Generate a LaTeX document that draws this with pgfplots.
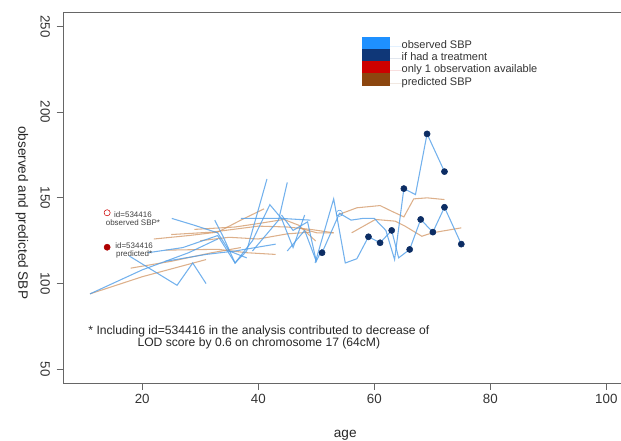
\documentclass[border=0pt]{standalone}
\usepackage{fontspec}
\setmainfont{Liberation Sans}
\usepackage{pgfplots}
\pgfplotsset{compat=1.18}
\definecolor{obs}{RGB}{80,158,232}
\definecolor{pred}{RGB}{210,150,100}
\definecolor{navy}{RGB}{12,45,100}
\definecolor{legblue}{RGB}{30,144,255}
\definecolor{legnavy}{RGB}{15,55,120}
\definecolor{legred}{RGB}{205,0,0}
\definecolor{legbrown}{RGB}{140,70,15}
\begin{document}
\begin{tikzpicture}
\begin{axis}[
  scale only axis, width=423.2pt, height=278pt,
  xmin=6.4, xmax=103.6, ymin=42, ymax=258,
  xtick={20,40,60,80,100}, ytick={50,100,150,200,250},
  tick align=outside, major tick length=5pt, tick pos=left,
  axis line style={black!60, line width=0.6pt},
  every tick/.style={black!60, line width=0.6pt},
  ticklabel style={font=\fontsize{10}{11}\selectfont, text=black!80},
  /pgf/number format/assume math mode=true,
  yticklabel style={rotate=-90, anchor=north},
  yticklabel shift=1.5pt,
  xlabel={age}, ylabel={observed and predicted SBP},
  label style={font=\fontsize{10.2}{11}\selectfont, text=black!85},
  xlabel style={at={(axis description cs:0.5,-0.140)}, anchor=center},
  ylabel style={at={(axis description cs:-0.0737,0.46)}, anchor=center, rotate=180},
  legend style={at={(axis description cs:0.5299,0.9352)}, anchor=north west,
    draw=none, fill=none, row sep=0pt, inner sep=0pt, outer sep=0pt, column sep=0pt,
    font=\fontsize{8.25}{9}\selectfont, text=black!80,
    nodes={inner sep=0pt, text height=3pt, text depth=0pt}},
  legend cell align=left,
  legend image code/.code={\fill[#1, draw=none] (0pt,-2.0pt) rectangle (21pt,7.2pt); \path[draw=none] (0pt,0pt) -- (29.7pt,0pt);},
  obsl/.style={obs, line width=0.8pt, opacity=0.8},
  predl/.style={pred, line width=0.8pt, opacity=0.75},
]
\addlegendimage{fill=legblue, draw=none}
\addlegendentry{observed SBP}
\addlegendimage{fill=legnavy, draw=none}
\addlegendentry{if had a treatment}
\addlegendimage{fill=legred, draw=none}
\addlegendentry{only 1 observation available}
\addlegendimage{fill=legbrown, draw=none}
\addlegendentry{predicted SBP}

% predicted SBP
\addplot[predl, forget plot] coordinates {(11,94) (20,104) (31,114)};
\addplot[predl, forget plot] coordinates {(18,109) (25,113) (32,118) (37,121)};
\addplot[predl, forget plot] coordinates {(22,126) (28,128) (33,130) (37,137) (41,143.6)};
\addplot[predl, forget plot] coordinates {(24,119.5) (33,120) (38,118) (43,117)};
\addplot[predl, forget plot] coordinates {(25,128.6) (32,130) (40,133.5) (45,133) (49,131.6) (53,129.6)};
\addplot[predl, forget plot] coordinates {(29,131.6) (36,133) (40,135) (44.4,137.4) (47,134) (49.9,124.8)};
\addplot[predl, forget plot] coordinates {(30,125) (35,127) (40,126) (45,129) (49,130)};
\addplot[predl, forget plot] coordinates {(47,132.5) (50.1,129.6) (53,129.6)};
\addplot[predl, forget plot] coordinates {(53.9,140.3) (57,144.2) (61,145.5) (63,142.2) (65.1,138.9) (66.8,149.4) (69.1,150) (72.1,149)};
\addplot[predl, forget plot] coordinates {(56.1,129.6) (60.2,137.4) (63.6,136.4) (65.3,133.5) (68.2,127.6) (70,129.6) (75,132.5)};

% observed SBP
\addplot[obsl, forget plot] coordinates {(11,94) (20,108) (28,118) (33,126)};
\addplot[obsl, forget plot] coordinates {(17.8,116) (26,99) (28.7,112) (31,100)};
\addplot[obsl, forget plot] coordinates {(25.1,138) (29,134) (33,129.6) (35,119) (38,115)};
\addplot[obsl, forget plot] coordinates {(21,118) (27,121) (33,128) (36,112) (38,119) (41.5,161)};
\addplot[obsl, forget plot] coordinates {(24,113) (31,117) (36,119) (43,123)};
\addplot[obsl, forget plot] coordinates {(32.5,137) (34,127) (36,112) (39,125) (42,146) (44,138) (46,121) (48,140)};
\addplot[obsl, forget plot] coordinates {(37,138) (44,138) (49,137)};
\addplot[obsl, forget plot] coordinates {(39,119) (43.5,137) (45,159)};
\addplot[obsl, forget plot] coordinates {(44,140) (46,131) (48.5,136) (50,113) (51,120)};
\addplot[obsl, forget plot] coordinates {(45,119) (48,131) (50,113)};
\addplot[obsl, forget plot] coordinates {(49.8,112) (53,149.4) (55,112) (57,114.5) (59,127.3) (61,123.8) (63,131) (64.2,115) (66.1,119.9) (68,137.4) (70.1,130) (72.1,144.5) (75,123)};
\addplot[obsl, forget plot] coordinates {(51,118) (54,141) (56,137) (58,138) (60,138) (62,131) (63.5,114) (65.1,155.4) (67.1,151.9) (69.1,187.3) (72.1,165.3)};

% treated observations
\addplot[only marks, mark=*, mark size=2.3pt, color=navy, forget plot] coordinates {
 (51,118) (59,127.3) (61,123.8) (63,131) (65.1,155.4) (66.1,119.9) (68,137.4)
 (69.1,187.3) (70.1,130) (72.1,165.3) (72.1,144.5) (75,123)};
% open circle
\addplot[only marks, mark=o, mark size=2.3pt, color=obs, forget plot] coordinates {(54,141)};
% id=534416
\addplot[only marks, mark=o, mark size=2.3pt, color=legred, forget plot] coordinates {(13.95,141.3)};
\addplot[only marks, mark=*, mark size=2.3pt, color=legred!85!black, forget plot] coordinates {(13.95,121.2)};

\node[align=center, font=\fontsize{6}{6.2}\selectfont, text=black!75] at (axis cs:18.4,137.9) {id=534416\\observed SBP*};
\node[align=center, font=\fontsize{6}{6.2}\selectfont, text=black!75] at (axis cs:18.6,119.3) {id=534416\\predicted*};
\node[align=center, font=\fontsize{9.1}{9.6}\selectfont, text=black!85] at (axis cs:40.1,68.6)
  {* Including id=534416 in the analysis contributed to decrease of\\LOD score by 0.6 on chromosome 17 (64cM)};

\coordinate (SW) at (rel axis cs:0,0);
\coordinate (NE) at (rel axis cs:1,1);
\end{axis}
\pgfresetboundingbox
\path ([xshift=-47.55pt,yshift=-43.3pt]SW) rectangle ([xshift=-4.65pt,yshift=9.5pt]NE);
\end{tikzpicture}
\end{document}
